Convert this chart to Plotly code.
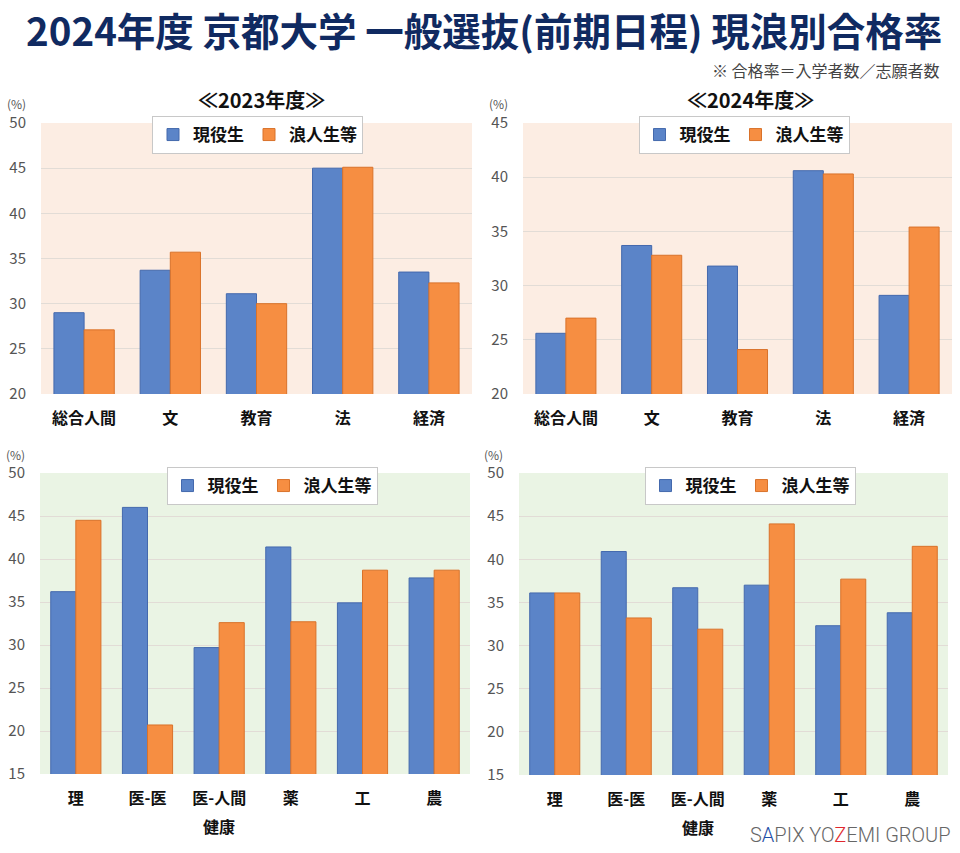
import plotly.graph_objects as go

# ---- data ----
cats_top = ["総合人間", "文", "教育", "法", "経済"]
cats_bottom = ["理", "医-医", "医-人間健康", "薬", "工", "農"]
ticks_bottom = ["理", "医-医", "医-人間", "薬", "工", "農"]
ticks_bottom_second_line = {"医-人間健康": "健康"}

genyaku_2023_top = [29.0, 33.7, 31.1, 45.0, 33.5]
ronin_2023_top = [27.1, 35.7, 30.0, 45.1, 32.3]
genyaku_2024_top = [25.6, 33.7, 31.8, 40.6, 29.1]
ronin_2024_top = [27.0, 32.8, 24.1, 40.3, 35.4]

genyaku_2023_bottom = [36.2, 46.0, 29.7, 41.4, 34.9, 37.8]
ronin_2023_bottom = [44.5, 20.7, 32.6, 32.7, 38.7, 38.7]
genyaku_2024_bottom = [36.1, 40.9, 36.7, 37.0, 32.3, 33.8]
ronin_2024_bottom = [36.1, 33.2, 31.9, 44.1, 37.7, 41.5]

series_names = ["現役生", "浪人生等"]
yranges = {"top_left": [20, 50], "top_right": [20, 45], "bottom": [15, 50]}

W, H = 960, 853
FONT = "Noto Sans CJK JP"
BLUE = "#5b84c8"
BLUE_EDGE = "#4469ad"
ORANGE = "#f68e42"
ORANGE_EDGE = "#d9722a"
PEACH = "#fcede3"
GREEN = "#eaf4e4"


def px_x(v):
    return v / W


def px_y(v):
    return 1 - v / H


panels = [
    (cats_top, cats_top, genyaku_2023_top, ronin_2023_top, 41, 472, 123, 394, yranges["top_left"], PEACH, "legend", 257.5, 116),
    (cats_top, cats_top, genyaku_2024_top, ronin_2024_top, 523, 952, 123, 394, yranges["top_right"], PEACH, "legend2", 744, 116),
    (cats_bottom, ticks_bottom, genyaku_2023_bottom, ronin_2023_bottom, 40, 470, 473, 774, yranges["bottom"], GREEN, "legend3", 272, 467),
    (cats_bottom, ticks_bottom, genyaku_2024_bottom, ronin_2024_bottom, 519, 948, 473, 775, yranges["bottom"], GREEN, "legend4", 750, 467),
]

fig = go.Figure()
layout_updates = {}
for i, (cats, ticktext, b, o, x0, x1, yt, yb, rng, bg, lg, lcx, lyt) in enumerate(panels):
    n = "" if i == 0 else str(i + 1)
    xa, ya = "x" + n, "y" + n
    fig.add_trace(go.Bar(x=cats, y=b, name=series_names[0], marker=dict(color=BLUE, line=dict(color=BLUE_EDGE, width=1)),
                         xaxis=xa, yaxis=ya, legend=lg))
    fig.add_trace(go.Bar(x=cats, y=o, name=series_names[1], marker=dict(color=ORANGE, line=dict(color=ORANGE_EDGE, width=1)),
                         xaxis=xa, yaxis=ya, legend=lg))
    layout_updates["xaxis" + n] = dict(
        domain=[px_x(x0), px_x(x1)], anchor=ya, showgrid=False, showline=False, automargin=False,
        tickmode="array", tickvals=cats, ticktext=ticktext,
        ticks="outside", ticklen=10, tickcolor="rgba(0,0,0,0)",
        tickfont=dict(family=FONT, size=16, color="#111111", weight="bold"),
        fixedrange=True,
    )
    layout_updates["yaxis" + n] = dict(
        domain=[px_y(yb), px_y(yt)], anchor=xa, range=rng, dtick=5, automargin=False,
        showgrid=True, gridcolor="#e2dcd6", gridwidth=1, zeroline=False, showline=False,
        tickfont=dict(family=FONT, size=15, color="#555555"), ticklabelstandoff=14,
        fixedrange=True,
    )
    layout_updates[lg] = dict(
        orientation="h", x=px_x(lcx), xanchor="center", y=px_y(lyt), yanchor="top",
        bgcolor="white", bordercolor="#c8c8c8", borderwidth=1,
        font=dict(family=FONT, size=17, color="#111111", weight="bold"),
        itemwidth=30, traceorder="normal",
    )
    fig.add_shape(type="rect", xref=xa + " domain", yref=ya + " domain", x0=0, x1=1, y0=0, y1=1,
                  fillcolor=bg, line=dict(width=0), layer="below")
    fig.add_annotation(text="(%)", x=px_x(x0 - 25), y=px_y(yt - 19), xref="paper", yref="paper",
                       xanchor="center", yanchor="middle", showarrow=False,
                       font=dict(family=FONT, size=12, color="#555555"))
    for cat, second in ticks_bottom_second_line.items():
        if cat in cats:
            fig.add_annotation(text="<b>" + second + "</b>", x=cat, xref=xa, y=px_y(yb + 52), yref="paper",
                               xanchor="center", yanchor="middle", showarrow=False,
                               font=dict(family=FONT, size=16, color="#111111"))

fig.update_layout(**layout_updates)

fig.add_annotation(text="<b>2024年度 京都大学 一般選抜(前期日程) 現浪別合格率</b>", x=px_x(484), y=px_y(29),
                   xref="paper", yref="paper", xanchor="center", yanchor="middle", showarrow=False,
                   borderpad=0, font=dict(family=FONT, size=38.5, color="#102a61"))
fig.add_annotation(text="※ 合格率＝入学者数／志願者数", x=px_x(942), y=px_y(70),
                   xref="paper", yref="paper", xanchor="right", yanchor="middle", showarrow=False,
                   font=dict(family=FONT, size=16, color="#444444"))
fig.add_annotation(text="<b>≪2023年度≫</b>", x=px_x(261), y=px_y(99),
                   xref="paper", yref="paper", xanchor="center", yanchor="middle", showarrow=False,
                   font=dict(family=FONT, size=20, color="#111111"))
fig.add_annotation(text="<b>≪2024年度≫</b>", x=px_x(750), y=px_y(99),
                   xref="paper", yref="paper", xanchor="center", yanchor="middle", showarrow=False,
                   font=dict(family=FONT, size=20, color="#111111"))
fig.add_annotation(
    text="S<span style='color:#1f4fa8'>A</span>PIX YO<span style='color:#e0282e'>Z</span>EMI GROUP",
    x=px_x(953), y=px_y(835), xref="paper", yref="paper", xanchor="right", yanchor="middle", showarrow=False,
    font=dict(family="Roboto", size=20, color="#666666", weight=300))

fig.update_layout(
    width=W, height=H, margin=dict(l=0, r=0, t=0, b=0, autoexpand=False),
    paper_bgcolor="white", plot_bgcolor="rgba(0,0,0,0)",
    barmode="group", bargap=0.3, bargroupgap=0,
    font=dict(family=FONT),
)

fig.write_html("out.html", config={"displayModeBar": False},
               post_script="document.body.style.margin='0';document.body.style.overflow='hidden';")
